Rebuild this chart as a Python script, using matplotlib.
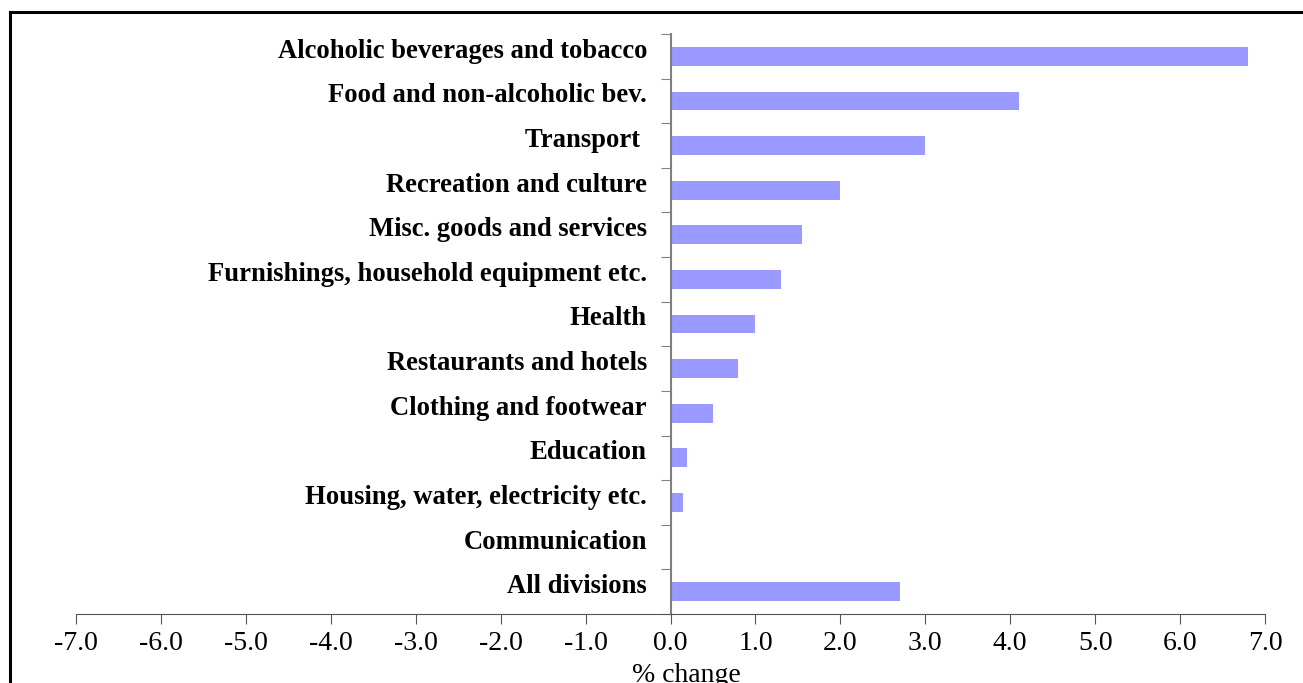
import matplotlib.pyplot as plt
import matplotlib.transforms as mtransforms
import numpy as np
from matplotlib.lines import Line2D

categories = [
    'Alcoholic beverages and tobacco',
    'Food and non-alcoholic bev.',
    'Transport ',
    'Recreation and culture',
    'Misc. goods and services',
    'Furnishings, household equipment etc.',
    'Health',
    'Restaurants and hotels',
    'Clothing and footwear',
    'Education',
    'Housing, water, electricity etc.',
    'Communication',
    'All divisions',
]
values = [6.8, 4.1, 3.0, 2.0, 1.55, 1.3, 1.0, 0.8, 0.5, 0.2, 0.15, 0.0, 2.7]
x_ticks = np.arange(-7, 8, 1)

plt.rcParams['font.family'] = ['Liberation Serif', 'DejaVu Serif']

fig = plt.figure(figsize=(13.03, 6.83), dpi=100)
ax = fig.add_axes([76 / 1303, 1 - 614 / 683, (1265 - 76) / 1303, (614 - 34) / 683])

n = len(categories)
pos = np.arange(n)[::-1]
ax.barh(pos, values, height=0.42, color='#9999FF', zorder=2)

ax.set_xlim(-7, 7)
ax.set_ylim(-0.5, n - 0.5)
ax.set_xticks(x_ticks)
ax.set_xticklabels([f'{t:.1f}' for t in x_ticks], fontsize=20)
ax.tick_params(axis='x', direction='out', length=7, color='#555555', pad=5)

# category boundaries get the ticks, names are drawn as text
ax.set_yticks(np.arange(n + 1) - 0.5)
ax.set_yticklabels([])
ax.tick_params(axis='y', direction='out', length=7, color='#808080')

offset = mtransforms.ScaledTranslation(0, 5 / 100, fig.dpi_scale_trans)
label_tf = ax.get_yaxis_transform() + offset
label_x = (647 - 76) / (1265 - 76)
for p, name in zip(pos, categories):
    ax.text(label_x, p, name, transform=label_tf, ha='right', va='center',
            fontsize=19.2, fontweight='bold')

for side in ['top', 'right']:
    ax.spines[side].set_visible(False)
ax.spines['left'].set_position(('data', 0))
ax.spines['left'].set_color('#808080')
ax.spines['left'].set_linewidth(1.5)
ax.spines['bottom'].set_color('#555555')

ax.set_xlabel('% change', fontsize=20)
ax.xaxis.set_label_coords(0.5135, -0.085)

fig.add_artist(Line2D([10 / 1303, 10 / 1303], [0, 1 - 12 / 683], transform=fig.transFigure,
                      color='black', linewidth=2.2))
fig.add_artist(Line2D([10 / 1303, 1], [1 - 12 / 683, 1 - 12 / 683], transform=fig.transFigure,
                      color='black', linewidth=2.2))

fig.savefig('out.png', dpi=100)
